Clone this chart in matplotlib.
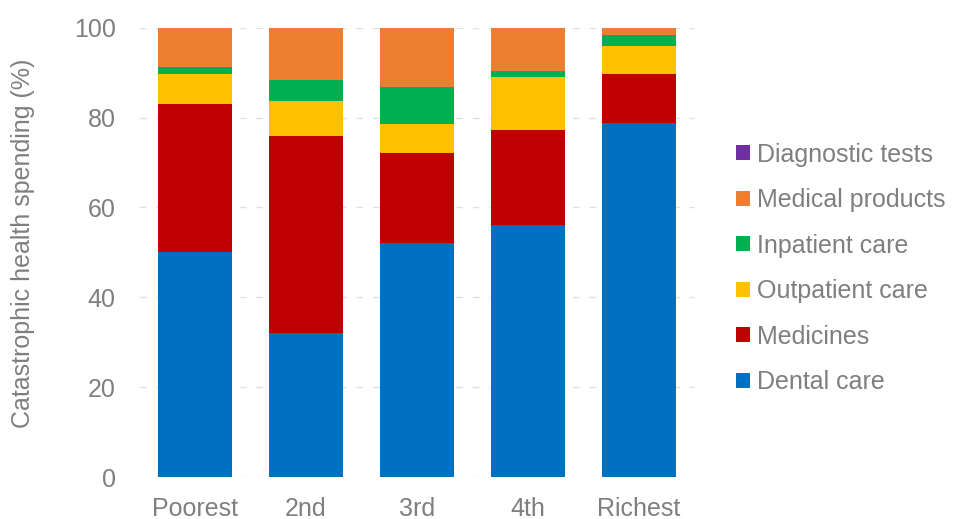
import matplotlib
matplotlib.use("Agg")
import matplotlib.pyplot as plt
import numpy as np

# -------------------------
# Data (share of catastrophic health spending, %)
# -------------------------
quintiles = ["Poorest", "2nd", "3rd", "4th", "Richest"]
dental = [50.0, 32.2, 52.2, 56.0, 78.7]
medicines = [33.0, 43.6, 19.9, 21.2, 11.0]
outpatient = [6.6, 7.9, 6.4, 11.9, 6.3]
inpatient = [1.7, 4.7, 8.2, 1.3, 2.3]
medical_products = [8.5, 11.4, 13.1, 9.5, 1.6]
diagnostic = [0.2, 0.2, 0.2, 0.1, 0.1]

series = [
    ("Dental care", dental, "#0070C0"),
    ("Medicines", medicines, "#C00000"),
    ("Outpatient care", outpatient, "#FFC000"),
    ("Inpatient care", inpatient, "#00B050"),
    ("Medical products", medical_products, "#ED7D31"),
    ("Diagnostic tests", diagnostic, "#7030A0"),
]

grey = "#7F7F7F"
fs = 18
plt.rcParams['font.family'] = ['Liberation Sans', 'DejaVu Sans']

fig = plt.figure(figsize=(9.58, 5.19), dpi=100)
ax = fig.add_axes([0.1456, 0.080, 0.5794, 0.867])

x = np.arange(len(quintiles))
bottom = np.zeros(len(quintiles))
handles = []
for label, vals, color in series:
    b = ax.bar(x, vals, width=0.667, bottom=bottom, color=color, label=label,
               edgecolor="none", zorder=3)
    bottom += np.array(vals)
    handles.append(b)

ax.set_xlim(-0.5, len(quintiles) - 0.5)
ax.set_ylim(0, 100)
ax.set_yticks(range(0, 101, 20))
ax.set_xticks(x)
ax.set_xticklabels(quintiles)
ax.yaxis.grid(True, color="#E2E2D8", linestyle=(0, (5, 7)), linewidth=1.0, zorder=0)
ax.set_axisbelow(True)
for s in ax.spines.values():
    s.set_visible(False)
ax.tick_params(axis="both", length=0, labelsize=fs, labelcolor=grey)
ax.tick_params(axis="y", pad=17)
ax.tick_params(axis="x", pad=14)
ax.set_ylabel("Catastrophic health spending (%)", fontsize=fs, color=grey, labelpad=28, y=0.52)

leg = fig.legend(handles=handles[::-1], loc="center left", bbox_to_anchor=(736 / 958, 0.483),
                 frameon=False, fontsize=fs, handlelength=0.56, handleheight=0.56,
                 handletextpad=0.28, labelspacing=0.86, borderpad=0, borderaxespad=0)
for t in leg.get_texts():
    t.set_color(grey)

fig.savefig("out.png", dpi=100)
